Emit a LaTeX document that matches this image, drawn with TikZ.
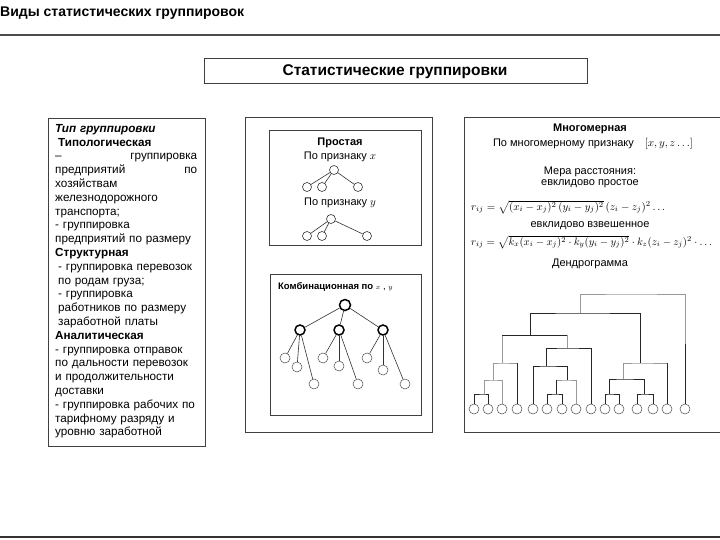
\documentclass[tikz,border=0pt]{standalone}
\usepackage[no-math]{fontspec}
\setmainfont{Liberation Sans}
\usepackage{amsmath}
\usepackage{graphicx}
\begin{document}
\begin{tikzpicture}[x=1pt,y=-1pt,
  frame/.style={draw=black!75, line width=0.8pt},
  ltxt/.style={font=\fontsize{11}{13.8}\selectfont},
  tn/.style={circle, draw=black!80, line width=0.6pt, inner sep=0pt, minimum size=9pt},
  lf/.style={circle, draw=black!70, line width=0.5pt, inner sep=0pt, minimum size=10pt},
  bg/.style={circle, draw=black, line width=1.5pt, inner sep=0pt, minimum size=10pt},
  edge/.style={draw=black!80, line width=0.6pt},
  dk/.style={draw=black!85, line width=0.8pt},
  gr/.style={draw=black!40, line width=0.8pt}]
\useasboundingbox (0,0) rectangle (720,540);
\fill[white] (0,0) rectangle (720,540);

% title and rules
\node[anchor=west, inner sep=0pt, font=\bfseries\fontsize{14}{16}\selectfont] (title) at (0,13) {Виды статистических группировок};
\coordinate (tl) at (0,35);
\coordinate (tr) at (720,35);
\draw[black!70, line width=1.2pt] (tl) -- (tr);
\coordinate (bl) at (0,537);
\coordinate (br) at (720,537);
\draw[black!80, line width=2pt] (bl) -- (br);

% header box
\node[frame, minimum width=383pt, minimum height=25pt, inner sep=0pt] (hdr) at (395.5,70.5) {};
\node[inner sep=0pt, font=\bfseries\fontsize{15.5}{17}\selectfont] (hdrt) at (395,72) {Статистические группировки};

% left box
\draw[frame] (48,118) rectangle (205,446);
\node[font=\fontsize{11.7}{13.8}\selectfont, anchor=north west, inner sep=0pt, text width=170pt, align=left] (ltext) at (55,124) {%
\textbf{\textit{Тип группировки}}\\
\hspace*{3pt}\textbf{Типологическая}\\
\makebox[142pt][l]{–\hfill группировка}\\
\makebox[142pt][l]{предприятий\hfill по}\\
хозяйствам\\
железнодорожного\\
транспорта;\\
- группировка\\
предприятий по размеру\\
\textbf{Структурная}\\
\hspace*{3pt}- группировка перевозок\\
\hspace*{3pt}по родам груза;\\
\hspace*{3pt}- группировка\\
\hspace*{3pt}работников по размеру\\
\hspace*{3pt}заработной платы\\
\textbf{Аналитическая}\\
- группировка отправок\\
по дальности перевозок\\
и продолжительности\\
доставки\\
- группировка рабочих по\\
тарифному разряду и\\
уровню заработной};

% middle box
\draw[frame] (245,117) rectangle (432,432);
\draw[frame] (269,130) rectangle (421,245);
\draw[frame] (270,274) rectangle (421,415);

\node[ltxt, font=\bfseries\fontsize{11}{13}\selectfont] (simple) at (340,143) {Простая};
\node[ltxt] (px) at (340,157) {По признаку $x$};
\node[tn] (r1) at (334,170) {};
\node[tn] (a1) at (307,187) {};
\node[tn] (a2) at (322,187) {};
\node[tn] (a3) at (358,187) {};
\draw[edge] (r1) -- (a1);
\draw[edge] (r1) -- (a2);
\draw[edge] (r1) -- (a3);
\node[ltxt] (py) at (340,203) {По признаку $y$};
\node[tn] (r2) at (331,219) {};
\node[tn] (b1) at (307,236) {};
\node[tn] (b2) at (322,236) {};
\node[tn] (b3) at (367,236) {};
\draw[edge] (r2) -- (b1);
\draw[edge] (r2) -- (b2);
\draw[edge] (r2) -- (b3);

\node[anchor=west, inner sep=0pt, font=\bfseries\fontsize{9.5}{11}\selectfont] (comb) at (278,287) {Комбинационная по \mdseries$\scriptstyle x$ , $\scriptstyle y$};
\node[bg, minimum size=11pt] (k0) at (345,305) {};
\node[bg] (k1) at (300,330) {};
\node[bg] (k2) at (339,330) {};
\node[bg] (k3) at (383,330) {};
\draw[edge] (k0) -- (k1);
\draw[edge] (k0) -- (k2);
\draw[edge] (k0) -- (k3);
\node[lf] (k11) at (285,358) {};
\node[lf] (k12) at (297,367) {};
\node[lf] (k13) at (314,384) {};
\node[lf] (k21) at (323,358) {};
\node[lf] (k22) at (339,366) {};
\node[lf] (k23) at (358,384) {};
\node[lf] (k31) at (367,358) {};
\node[lf] (k32) at (383,370) {};
\node[lf] (k33) at (405,384) {};
\foreach \p in {1,2,3}{\foreach \c in {1,2,3}{\draw[edge] (k\p) -- (k\p\c);}}

% right box
\draw[frame] (464,117) rectangle (722,432);
\node[ltxt, font=\bfseries\fontsize{11}{13}\selectfont] (multi) at (590,129) {Многомерная};
\node[ltxt] (pm) at (593,144) {По многомерному признаку\quad $[x, y, z\ldots]$};
\node[ltxt] (mera) at (590,172) {Мера расстояния:};
\node[ltxt] (ev1) at (590,184) {евклидово простое};
\node[anchor=west, inner sep=0pt] (f1) at (471,207) {\resizebox{194pt}{!}{$r_{ij}=\sqrt{(x_i-x_j)^2\,(y_i-y_j)^2}\,(z_i-z_j)^2\ldots$}};
\node[ltxt] (ev2) at (590,226) {евклидово взвешенное};
\node[anchor=west, inner sep=0pt] (f2) at (471,242) {\resizebox{241pt}{!}{$r_{ij}=\sqrt{k_x(x_i-x_j)^2\cdot k_y(y_i-y_j)^2}\cdot k_z(z_i-z_j)^2\cdot\ldots$}};
\node[ltxt] (dend) at (590,264) {Дендрограмма};

% dendrogram leaves
\foreach \i/\x in {1/474,2/488,3/502,4/517,5/533,6/547,7/562,8/576,9/591,10/605,11/619,12/637,13/653,14/667,15/685}
  {\node[lf] (d\i) at (\x,409) {};}
\coordinate (c12) at (484,394);
\coordinate (c123) at (493,380);
\coordinate (c1234) at (502,363);
\coordinate (c67) at (556,394);
\coordinate (c678) at (567,380);
\coordinate (c5678) at (546,366);
\coordinate (c59) at (567,348);
\coordinate (cA) at (530,335);
\coordinate (c1011) at (609,394);
\coordinate (c1213) at (644,394);
\coordinate (c1013) at (623,379);
\coordinate (c1014) at (640,363);
\coordinate (cB) at (580,313);
\coordinate (ctop) at (630,294);

\draw[dk] (d1.north) |- (c12) -| (d2.north);
\draw[gr] (c12) |- (c123) -| (d3.north);
\draw[gr] (c123) |- (c1234) -| (d4.north);
\draw[dk] (d4.north) -- (d4.north |- c1234);
\draw[dk] (d6.north) |- (c67) -| (d7.north);
\draw[gr] (c67) |- (c678) -| (d8.north);
\draw[dk] (c67) -- (c67 |- c678);
\draw[dk] (d5.north) |- (c5678) -| (c678);
\draw[dk] (c5678) |- (c59) -| (d9.north);
\draw[gr] (c1234) |- (cA) -| (c59);
\draw[dk] (c1234 |- cA) -- (c59 |- cA);
\draw[dk] (d10.north) |- (c1011) -| (d11.north);
\draw[dk] (d12.north) |- (c1213) -| (d13.north);
\draw[dk] (c1011) |- (c1013) -| (c1213);
\draw[gr] (c1013) |- (c1014) -| (d14.north);
\draw[dk] (d14.north) -- (d14.north |- c1014);
\draw[dk] (cA) |- (cB) -| (c1014);
\draw[gr] (cB) |- (ctop) -| (d15.north);
\draw[dk] (d15.north) -- ++(0,-60);
\end{tikzpicture}
\end{document}
